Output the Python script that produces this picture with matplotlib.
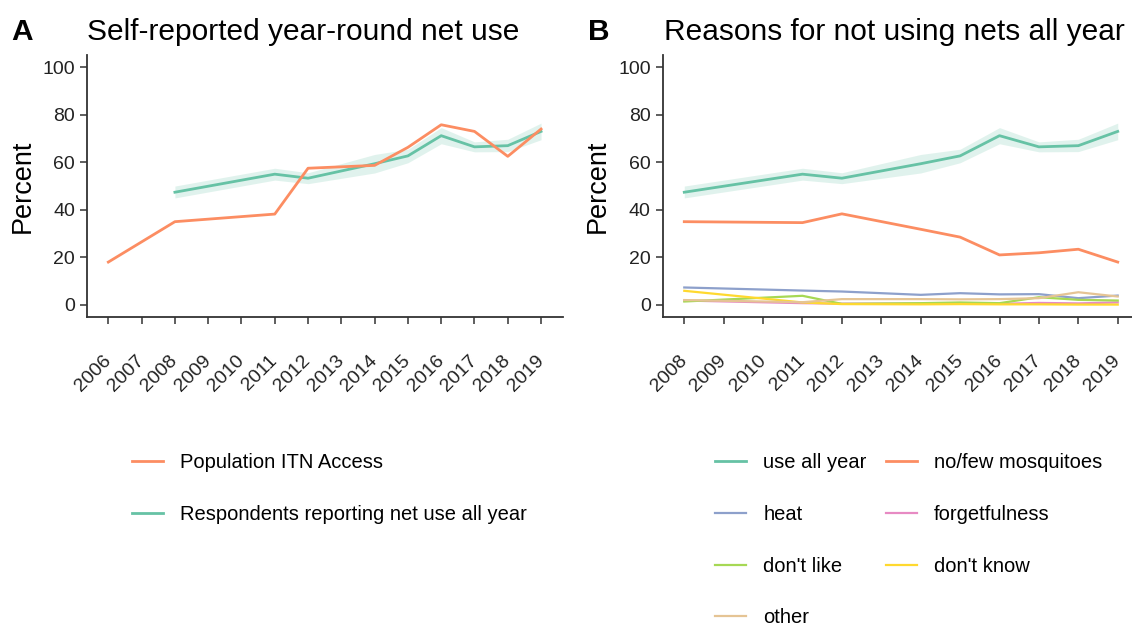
import matplotlib
matplotlib.use("Agg")
import matplotlib.pyplot as plt

plt.rcParams['font.family'] = ['Liberation Sans', 'DejaVu Sans']

# Set2 colours
GREEN = '#66c2a5'
ORANGE = '#fc8d62'
BLUE = '#8da0cb'
PINK = '#e78ac3'
LIME = '#a6d854'
YELLOW = '#ffd92f'
TAN = '#e5c494'
AXIS = '#333333'

# panel A: ITN access
access_years = [2006, 2008, 2011, 2012, 2014, 2015, 2016, 2017, 2018, 2019]
access_pct = [18.0, 35.0, 38.2, 57.5, 58.7, 66.3, 75.8, 73.0, 62.5, 74.0]

# survey years for net-use questions
survey_years = [2008, 2011, 2012, 2014, 2015, 2016, 2017, 2018, 2019]
use_all_year = [47.4, 55.0, 53.3, 59.4, 62.7, 71.2, 66.5, 67.0, 73.0]
use_lower = [45.0, 52.5, 51.0, 55.5, 59.8, 67.8, 64.4, 64.5, 69.5]
use_upper = [50.0, 57.5, 55.6, 63.3, 65.5, 74.6, 68.6, 69.7, 76.5]

# panel B: reasons
no_mosquitoes = [35.0, 34.6, 38.3, 31.8, 28.5, 21.0, 21.9, 23.4, 18.0]
heat = [7.3, 6.0, 5.6, 4.2, 4.9, 4.4, 4.5, 2.8, 3.9]
forgetfulness = [1.8, 0.7, 0.5, 0.5, 0.4, 0.4, 0.8, 0.6, 1.0]
dont_like = [1.4, 3.8, 0.4, 0.7, 1.0, 0.7, 3.2, 2.1, 1.8]
dont_know = [5.9, 1.0, 0.3, 0.2, 0.3, 0.2, 0.2, 0.1, 0.1]
other = [2.0, 1.1, 2.4, 2.4, 2.3, 2.4, 2.8, 5.3, 3.5]

yticks = [0, 20, 40, 60, 80, 100]

W, H = 1132, 628
fig = plt.figure(figsize=(W / 100, H / 100), dpi=100)

def px(x0, y_top, x1, y_bottom):
    return [x0 / W, 1 - y_bottom / H, (x1 - x0) / W, (y_bottom - y_top) / H]

axA = fig.add_axes(px(86.7, 55.4, 562.7, 316.7))
axB = fig.add_axes(px(662.6, 55.4, 1139.4, 316.7))

def style(ax, years):
    for s in ['top', 'right']:
        ax.spines[s].set_visible(False)
    for s in ['left', 'bottom']:
        ax.spines[s].set_color(AXIS)
        ax.spines[s].set_linewidth(1.3)
    ax.set_ylim(-5, 105)
    ax.set_yticks(yticks)
    ax.set_xticks(years)
    ax.set_xlim(years[0] - 0.05 * (years[-1] - years[0]),
                years[-1] + 0.05 * (years[-1] - years[0]))
    ax.tick_params(colors=AXIS, width=1.1, length=5, labelsize=14,
                   labelcolor='#222222')
    ax.tick_params(axis='x', pad=25)
    for lab in ax.get_xticklabels():
        lab.set_rotation(45)
        lab.set_ha('right')
        lab.set_va('center')
        lab.set_rotation_mode('anchor')
    ax.set_ylabel('Percent', fontsize=19.5, labelpad=5)

# panel A
axA.fill_between(survey_years, use_lower, use_upper, color=GREEN, alpha=0.2, lw=0)
lg, = axA.plot(survey_years, use_all_year, color=GREEN, lw=2,
               label='Respondents reporting net use all year')
lo, = axA.plot(access_years, access_pct, color=ORANGE, lw=2,
               label='Population ITN Access')
style(axA, list(range(2006, 2020)))

# panel B
axB.fill_between(survey_years, use_lower, use_upper, color=GREEN, alpha=0.2, lw=0)
series = [
    ('use all year', use_all_year, GREEN),
    ('no/few mosquitoes', no_mosquitoes, ORANGE),
    ('heat', heat, BLUE),
    ('forgetfulness', forgetfulness, PINK),
    ("don't like", dont_like, LIME),
    ("don't know", dont_know, YELLOW),
    ('other', other, TAN),
]
handles = {}
for name, vals, col in series:
    h, = axB.plot(survey_years, vals, color=col, lw=2 if name in ('use all year', 'no/few mosquitoes') else 1.6,
                  label=name)
    handles[name] = h
style(axB, list(range(2008, 2020)))

# titles
fig.text(11 / W, 1 - 39.5 / H, 'A', fontsize=21.5, fontweight='bold', va='baseline')
fig.text(87 / W, 1 - 39.5 / H, 'Self-reported year-round net use', fontsize=21.5, va='baseline')
fig.text(588 / W, 1 - 39.5 / H, 'B', fontsize=21.5, fontweight='bold', va='baseline')
fig.text(664 / W, 1 - 39.5 / H, 'Reasons for not using nets all year', fontsize=21.5, va='baseline')

leg_kw = dict(frameon=False, fontsize=14.5, handlelength=1.55, handletextpad=0.85,
              labelspacing=1.62, borderpad=0, borderaxespad=0, loc='upper left')
fig.legend([lo, lg], [lo.get_label(), lg.get_label()],
           bbox_to_anchor=(132 / W, 1 - 453.5 / H), **leg_kw)
order = ['use all year', 'heat', "don't like", 'other',
         'no/few mosquitoes', 'forgetfulness', "don't know"]
fig.legend([handles[k] for k in order], order, ncol=2, columnspacing=0.95,
           bbox_to_anchor=(715 / W, 1 - 453.5 / H), **leg_kw)

fig.savefig('out.png', dpi=100)
